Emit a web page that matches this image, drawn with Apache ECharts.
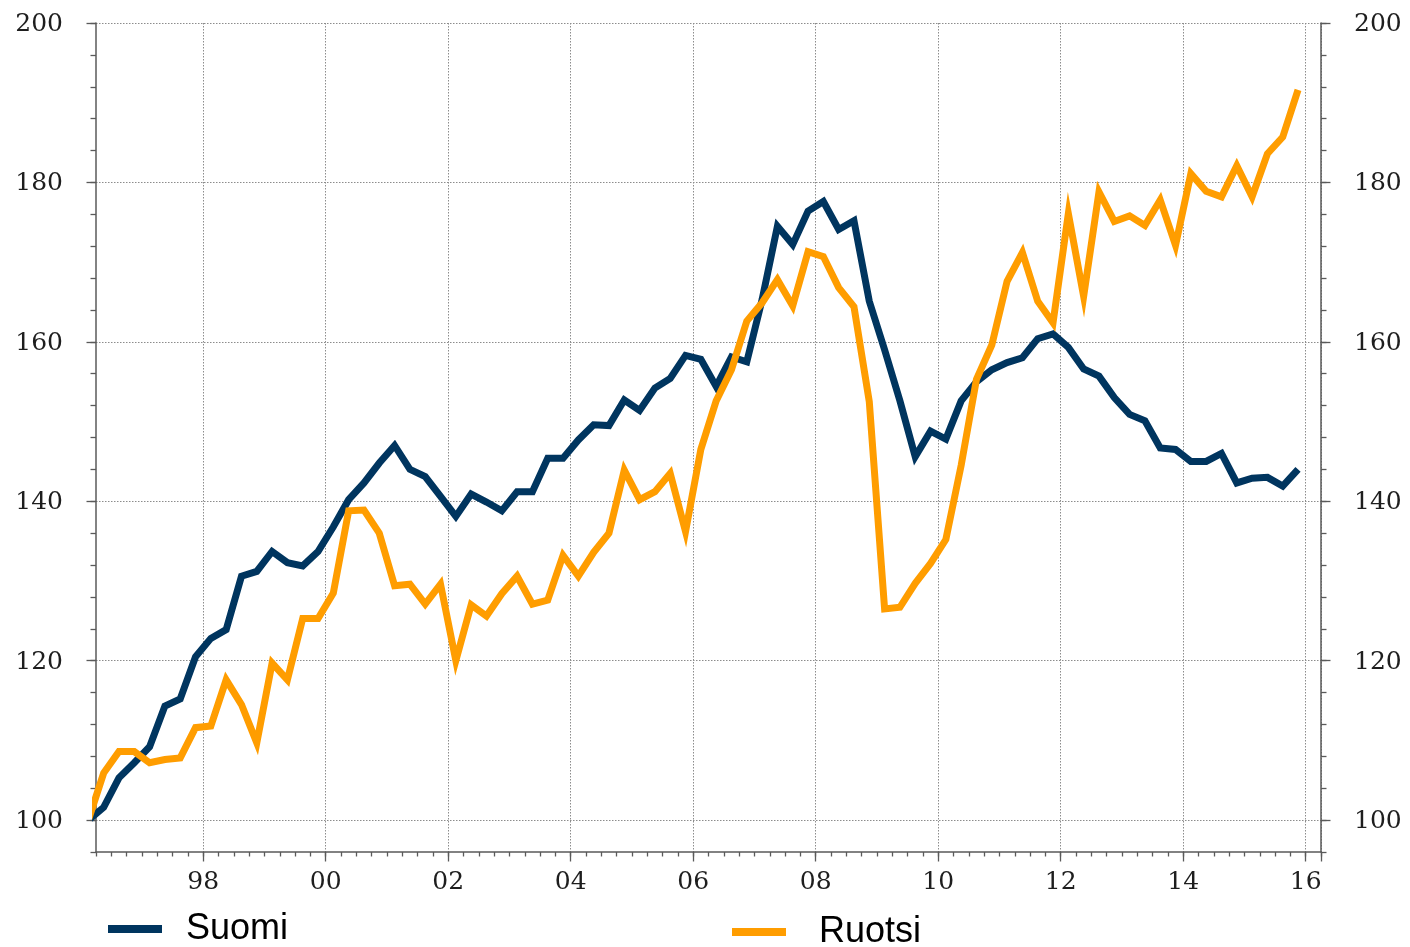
<!DOCTYPE html>
<html><head><meta charset="utf-8">
<script src="https://cdn.jsdelivr.net/npm/echarts@6/dist/echarts.min.js"></script>
<style>html,body{margin:0;padding:0;background:#fff}#c{width:1410px;height:947px}</style>
</head><body><div id="c"></div>
<script>
// quarterly index, 1996Q1 = 100
const startYear = 1996;
const seriesNames = ['Suomi', 'Ruotsi'];
const suomi = [
  100.0, 101.6, 105.3, 107.2, 109.2, 114.3, 115.2, 120.5, 122.8, 123.9,
  130.6, 131.2, 133.7, 132.3, 131.9, 133.7, 136.8, 140.2, 142.3, 144.8,
  147.0, 144.0, 143.1, 140.6, 138.1, 140.9, 139.9, 138.8, 141.2, 141.2,
  145.4, 145.4, 147.7, 149.6, 149.5, 152.7, 151.4, 154.2, 155.4, 158.3,
  157.8, 154.4, 158.1, 157.5, 165.3, 174.5, 172.2, 176.4, 177.6, 174.1,
  175.2, 165.1, 159.0, 152.6, 145.6, 148.8, 147.8, 152.6, 155.0, 156.5,
  157.4, 158.0, 160.4, 161.0, 159.3, 156.6, 155.7, 153.0, 150.9, 150.1,
  146.7, 146.5, 145.0, 145.0, 146.0, 142.3, 142.9, 143.0, 141.9, 144.0
];
const ruotsi = [
  100.0, 105.9, 108.6, 108.6, 107.2, 107.6, 107.8, 111.6, 111.8, 117.6,
  114.5, 109.7, 119.7, 117.6, 125.3, 125.3, 128.5, 138.8, 138.9, 136.0,
  129.4, 129.6, 127.1, 129.6, 120.0, 127.0, 125.6, 128.4, 130.6, 127.1,
  127.6, 133.2, 130.6, 133.6, 136.0, 143.9, 140.2, 141.2, 143.5, 136.2,
  146.5, 152.6, 156.5, 162.6, 164.9, 167.8, 164.5, 171.3, 170.7, 166.8,
  164.4, 152.5, 126.5, 126.7, 129.7, 132.2, 135.2, 144.5, 155.3, 159.6,
  167.6, 171.2, 165.1, 162.4, 176.1, 165.7, 178.8, 175.1, 175.8, 174.6,
  177.8, 172.1, 181.1, 178.9, 178.2, 182.1, 178.2, 183.6, 185.7, 191.6
];
const xLabelYears = [1998, 2000, 2002, 2004, 2006, 2008, 2010, 2012, 2014, 2016];
const yLabels = [100, 120, 140, 160, 180, 200];

const xMin = 1996.25, xMax = 2016.25, yMin = 96, yMax = 200;
const colors = ['#00355f', '#ff9d00'];

function qLabel(k) { return (startYear + Math.floor(k / 4)) + 'Q' + (k % 4 + 1); }
function qMid(label) { const y = +label.slice(0, 4), q = +label.slice(5); return y + (q - 1) / 4 + 0.125; }
const quarters = suomi.map((_, k) => qLabel(k));
const axisQuarters = []; for (let k = 1; k <= 80; k++) axisQuarters.push(qLabel(k));
const yBands = []; for (let v = yMin + 4; v <= yMax; v += 4) yBands.push(String(v));

const isXMajor = (i, val) => val.endsWith('Q1') && xLabelYears.indexOf(+val.slice(0, 4)) >= 0;
const isYLabel = (i, val) => yLabels.indexOf(+val) >= 0;
const isYTick = (i, val) => yLabels.indexOf(+val - 4) >= 0;

const axisCol = '#5a5a5a';
const labelFont = { fontFamily: 'DejaVu Serif', fontSize: 25, color: '#1e1e1e' };
const gridLine = { show: true, lineStyle: { color: '#8c8c8c', width: 1, type: [1.5, 1.5] } };

const chart = echarts.init(document.getElementById('c'));
chart.setOption({
  animation: false,
  backgroundColor: '#fff',
  grid: { left: 96, right: 89, top: 23, bottom: 95 },
  legend: [
    { data: ['Suomi'], left: 108, top: 911, padding: 0, icon: 'rect', itemWidth: 54, itemHeight: 8,
      textStyle: { fontFamily: 'Liberation Sans', fontSize: 36, color: '#000', padding: [0, 0, 0, 19] } },
    { data: ['Ruotsi'], left: 732, top: 914, padding: 0, icon: 'rect', itemWidth: 54, itemHeight: 8,
      textStyle: { fontFamily: 'Liberation Sans', fontSize: 36, color: '#000', padding: [0, 0, 0, 28] } }
  ],
  xAxis: [
    { type: 'value', min: xMin, max: xMax, interval: 0.25, position: 'bottom',
      axisLine: { show: true, onZero: false, lineStyle: { color: axisCol, width: 1.5 } },
      axisTick: { show: true, length: 4.5, lineStyle: { color: axisCol, width: 1.3 } },
      axisLabel: { show: false }, splitLine: { show: false } },
    { type: 'category', data: axisQuarters, boundaryGap: true, position: 'bottom',
      axisLine: { show: false, onZero: false },
      axisTick: { show: true, length: 9.5, interval: isXMajor, lineStyle: { color: axisCol, width: 1.3 } },
      axisLabel: { show: true, interval: isXMajor, margin: 18, padding: [0, 15.3, 0, 0],
        formatter: v => v.slice(2, 4), ...labelFont },
      splitLine: { ...gridLine, interval: isXMajor } }
  ],
  yAxis: [
    { type: 'value', min: yMin, max: yMax, interval: 4, position: 'left',
      axisLine: { show: true, onZero: false, lineStyle: { color: axisCol, width: 1.5 } },
      axisTick: { show: true, length: 5.5, lineStyle: { color: axisCol, width: 1.3 } },
      axisLabel: { show: false }, splitLine: { show: false } },
    { type: 'value', min: yMin, max: yMax, interval: 4, position: 'right',
      axisLine: { show: true, onZero: false, lineStyle: { color: axisCol, width: 1.5 } },
      axisTick: { show: true, length: 5.5, lineStyle: { color: axisCol, width: 1.3 } },
      axisLabel: { show: false }, splitLine: { show: false } },
    { type: 'category', data: yBands, boundaryGap: true, position: 'left',
      axisLine: { show: false, onZero: false },
      axisTick: { show: true, length: 9.5, interval: isYTick, lineStyle: { color: axisCol, width: 1.3 } },
      axisLabel: { show: true, interval: isYLabel, margin: 33, verticalAlign: 'bottom', lineHeight: 29, ...labelFont },
      splitLine: { ...gridLine, interval: isYTick } },
    { type: 'category', data: yBands, boundaryGap: true, position: 'right',
      axisLine: { show: false, onZero: false },
      axisTick: { show: true, length: 9.5, interval: isYTick, lineStyle: { color: axisCol, width: 1.3 } },
      axisLabel: { show: true, interval: isYLabel, margin: 33, verticalAlign: 'bottom', lineHeight: 29, ...labelFont },
      splitLine: { show: false } }
  ],
  series: [suomi, ruotsi].map((vals, s) => ({
    name: seriesNames[s], type: 'line', xAxisIndex: 0, yAxisIndex: 0,
    showSymbol: false, symbol: 'none', clip: true,
    itemStyle: { color: colors[s] },
    lineStyle: { color: colors[s], width: 7, join: 'miter', cap: 'butt' },
    data: vals.map((v, k) => [qMid(quarters[k]), v])
  }))
});
</script></body></html>
